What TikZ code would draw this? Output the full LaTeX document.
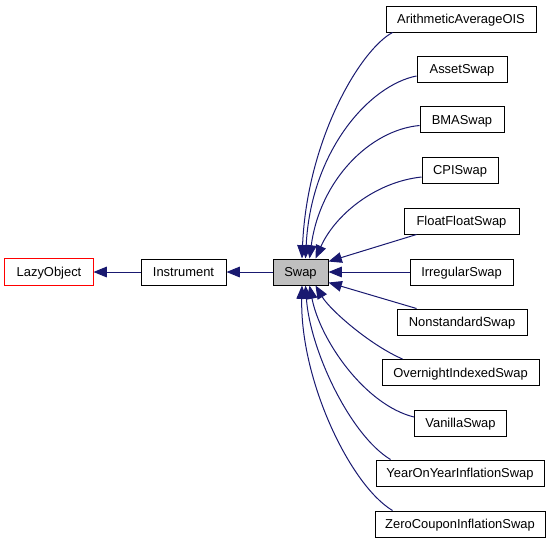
\documentclass[tikz,border=0pt]{standalone}
\usepackage{fontspec}
\setmainfont{Liberation Sans}
\usetikzlibrary{arrows.meta,calc}
\definecolor{edgeblue}{HTML}{191970}
\definecolor{swapgray}{HTML}{BFBFBF}
\definecolor{lazyred}{rgb}{1,0,0}
\tikzset{
  box/.style={draw=black, line width=0.75pt, fill=white, inner sep=0pt,
    minimum height=19.5pt, text height=6.9pt, text depth=0pt,
    font=\fontsize{9.7}{11.6}\selectfont},
  bw/.style={minimum width=#1*0.75pt},
  redbox/.style={draw=none, fill=white, text=black},
  redframe/.style={draw=lazyred, line width=0.75pt},
  edge/.style={draw=edgeblue, line width=0.75pt,
    -{Triangle[length=10pt,width=8pt]}},
}
\begin{document}
\begin{tikzpicture}[x=0.75pt,y=-0.75pt]
\useasboundingbox (0,0) rectangle (553,544);
% nodes
\node[box,bw=88,redbox] (lazy) at (49,272) {LazyObject};
\draw[redframe] (lazy.south west) rectangle (lazy.north east);
\node[box,bw=85] (inst) at (183.5,272) {Instrument};
\node[box,bw=55,fill=swapgray] (swap) at (300.5,272) {Swap};
\node[box,bw=150] (arith) at (461,19) {ArithmeticAverageOIS};
\node[box,bw=90] (asset) at (462,69) {AssetSwap};
\node[box,bw=84] (bma) at (462,119.5) {BMASwap};
\node[box,bw=76] (cpi) at (460,170) {CPISwap};
\node[box,bw=115] (ffs) at (461.5,221) {FloatFloatSwap};
\node[box,bw=103] (irr) at (461.5,272) {IrregularSwap};
\node[box,bw=130] (nss) at (462,322) {NonstandardSwap};
\node[box,bw=157] (ois) at (460.5,372.5) {OvernightIndexedSwap};
\node[box,bw=92] (van) at (460.5,423) {VanillaSwap};
\node[box,bw=168] (yoy) at (460,473) {YearOnYearInflationSwap};
\node[box,bw=170] (zci) at (460,524) {ZeroCouponInflationSwap};
% edges
\draw[edge] (inst.west) -- (lazy.east);
\draw[edge] (swap.west) -- (inst.east);
\draw[edge] ($(arith.south west)+(7,0)$) .. controls (360,50) and (307,140) .. ($(swap.north)+(1.5,0)$);
\draw[edge] ($(asset.west)+(0,7)$) .. controls (370,85) and (311,150) .. ($(swap.north)+(5,0)$);
\draw[edge] ($(bma.west)+(0,6)$) .. controls (370,130) and (320,180) .. ($(swap.north)+(9,0)$);
\draw[edge] ($(cpi.west)+(0,7)$) .. controls (375,182) and (335,215) .. ($(swap.north)+(15,0)$);
\draw[edge] ($(ffs.south west)+(13,0)$) -- ($(swap.north east)+(0,3)$);
\draw[edge] (irr.west) -- (swap.east);
\draw[edge] ($(nss.north west)+(20,0)$) -- ($(swap.south east)+(0,-3)$);
\draw[edge] ($(ois.north west)+(21,0)$) .. controls (370,345) and (330,310) .. ($(swap.south)+(15,0)$);
\draw[edge] ($(van.west)+(0,-6)$) .. controls (365,405) and (320,340) .. ($(swap.south)+(9,0)$);
\draw[edge] ($(yoy.north west)+(15,0)$) .. controls (350,435) and (310,350) .. ($(swap.south)+(5,0)$);
\draw[edge] ($(zci.north west)+(18,0)$) .. controls (350,485) and (300,380) .. ($(swap.south)+(1.5,0)$);
\end{tikzpicture}
\end{document}
